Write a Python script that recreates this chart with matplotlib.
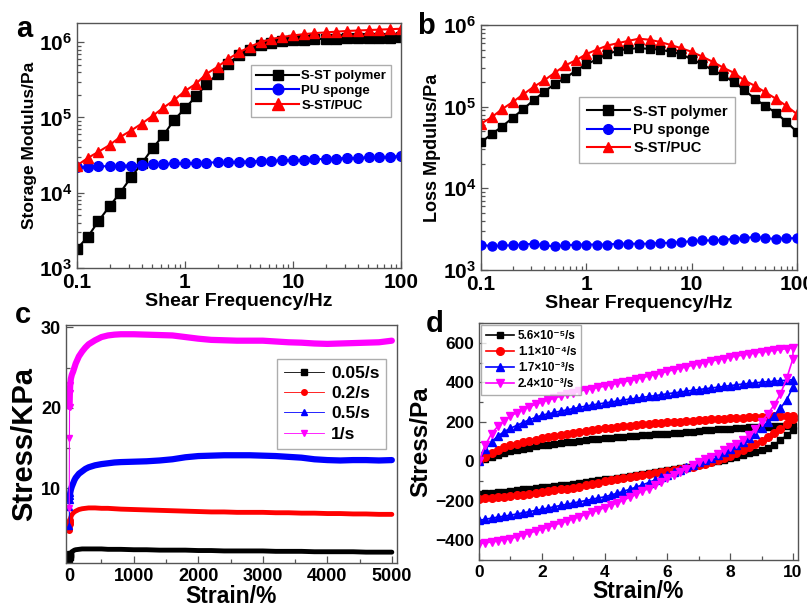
import math
import matplotlib
matplotlib.use("Agg")
import matplotlib.pyplot as plt
from matplotlib.ticker import FuncFormatter, MultipleLocator, LogLocator, NullFormatter

plt.rcParams["font.family"] = ["Liberation Sans", "DejaVu Sans"]
plt.rcParams["font.weight"] = "bold"
plt.rcParams["mathtext.fontset"] = "custom"
plt.rcParams["mathtext.rm"] = "Liberation Sans:bold"
plt.rcParams["mathtext.bf"] = "Liberation Sans:bold"
plt.rcParams["mathtext.it"] = "Liberation Sans:bold"

# ---- panel a / b : frequency sweeps ----
freq = [0.1, 0.126, 0.158, 0.2, 0.251, 0.316, 0.398, 0.501, 0.631, 0.794,
        1.0, 1.26, 1.58, 2.0, 2.51, 3.16, 3.98, 5.01, 6.31, 7.94,
        10.0, 12.6, 15.8, 20.0, 25.1, 31.6, 39.8, 50.1, 63.1, 79.4, 100.0]
storage_sst = [1.8e3, 2.6e3, 4.2e3, 6.6e3, 1.0e4, 1.6e4, 2.45e4, 3.9e4, 5.8e4, 9.3e4,
               1.32e5, 1.9e5, 2.75e5, 3.8e5, 5.2e5, 6.7e5, 8.0e5, 9.1e5, 9.8e5, 1.03e6,
               1.06e6, 1.08e6, 1.10e6, 1.11e6, 1.12e6, 1.13e6, 1.14e6, 1.14e6, 1.15e6, 1.15e6, 1.16e6]
storage_pu = [2.2e4, 2.2e4, 2.25e4, 2.25e4, 2.3e4, 2.3e4, 2.35e4, 2.4e4, 2.4e4, 2.45e4,
              2.45e4, 2.5e4, 2.5e4, 2.55e4, 2.55e4, 2.6e4, 2.6e4, 2.65e4, 2.65e4, 2.7e4,
              2.7e4, 2.75e4, 2.8e4, 2.8e4, 2.85e4, 2.9e4, 2.9e4, 2.95e4, 3.0e4, 3.0e4, 3.1e4]
storage_puc = [2.3e4, 2.9e4, 3.5e4, 4.3e4, 5.5e4, 6.7e4, 8.3e4, 1.05e5, 1.35e5, 1.7e5,
               2.25e5, 2.8e5, 3.8e5, 4.7e5, 6.0e5, 7.3e5, 8.7e5, 1.0e6, 1.1e6, 1.17e6,
               1.23e6, 1.28e6, 1.32e6, 1.35e6, 1.38e6, 1.41e6, 1.43e6, 1.45e6, 1.47e6, 1.49e6, 1.51e6]
loss_sst = [3.66e4, 4.6e4, 5.7e4, 7.3e4, 9.3e4, 1.2e5, 1.52e5, 1.9e5, 2.25e5, 2.75e5,
            3.3e5, 3.8e5, 4.4e5, 4.85e5, 5.1e5, 5.2e5, 5.1e5, 5.0e5, 4.7e5, 4.4e5,
            3.8e5, 3.3e5, 2.8e5, 2.4e5, 2.0e5, 1.6e5, 1.25e5, 1.02e5, 8.4e4, 6.5e4, 4.9e4]
loss_pu = [2.05e3, 1.95e3, 2.0e3, 2.0e3, 2.05e3, 2.1e3, 2.0e3, 1.95e3, 2.0e3, 2.05e3,
           2.05e3, 2.05e3, 2.05e3, 2.1e3, 2.1e3, 2.1e3, 2.1e3, 2.15e3, 2.15e3, 2.2e3,
           2.25e3, 2.3e3, 2.3e3, 2.35e3, 2.4e3, 2.45e3, 2.55e3, 2.45e3, 2.4e3, 2.45e3, 2.45e3]
loss_puc = [6.2e4, 7.4e4, 9.3e4, 1.14e5, 1.41e5, 1.75e5, 2.1e5, 2.6e5, 3.2e5, 3.7e5,
            4.4e5, 5.0e5, 5.6e5, 6.0e5, 6.4e5, 6.8e5, 6.6e5, 6.2e5, 5.7e5, 5.2e5,
            4.7e5, 4.1e5, 3.55e5, 3.0e5, 2.6e5, 2.1e5, 1.8e5, 1.5e5, 1.25e5, 1.02e5, 8.1e4]
ab_labels = ["S-ST polymer", "PU sponge", "S-ST/PUC"]

# ---- panel c : stress vs strain at several rates ----
c_strain = [0, 3, 5, 10, 15, 25, 40, 60, 80, 100, 150, 200, 250, 300, 400, 500, 600, 700, 800,
            1000, 1200, 1400, 1600, 1800, 2000, 2200, 2400, 2600, 2800, 3000,
            3200, 3400, 3600, 3800, 4000, 4200, 4400, 4600, 4800, 5000]
c_005 = [1.2, 1.4, 1.5, 1.7, 1.8, 1.95, 2.1, 2.2, 2.3, 2.35, 2.4, 2.45, 2.45, 2.45, 2.45, 2.45, 2.4, 2.4, 2.4,
         2.35, 2.35, 2.3, 2.3, 2.3, 2.25, 2.25, 2.2, 2.2, 2.2, 2.2,
         2.15, 2.15, 2.15, 2.1, 2.1, 2.1, 2.1, 2.05, 2.05, 2.05]
c_02 = [4.8, 5.3, 5.6, 5.8, 6.1, 6.4, 6.7, 6.9, 7.05, 7.15, 7.35, 7.45, 7.5, 7.55, 7.55, 7.5, 7.5, 7.45, 7.4,
        7.35, 7.3, 7.25, 7.2, 7.15, 7.1, 7.05, 7.05, 7.0, 7.0, 7.0,
        6.95, 6.95, 6.9, 6.9, 6.85, 6.85, 6.8, 6.8, 6.75, 6.75]
c_05 = [5.25, 7.7, 8.5, 9.0, 9.4, 9.8, 10.2, 10.6, 11.0, 11.3, 11.8, 12.1, 12.4, 12.6, 12.85, 13.0, 13.1, 13.2, 13.25,
        13.3, 13.35, 13.45, 13.6, 13.85, 14.0, 14.05, 14.1, 14.1, 14.1, 14.05,
        14.0, 13.9, 13.8, 13.6, 13.5, 13.45, 13.5, 13.5, 13.45, 13.5]
c_1 = [7.5, 16.3, 20.1, 21.9, 22.8, 23.6, 24.1, 24.5, 25.0, 25.5, 26.4, 27.0, 27.5, 27.9, 28.4, 28.8, 29.0, 29.1, 29.15,
       29.15, 29.1, 29.05, 29.0, 28.8, 28.6, 28.45, 28.4, 28.35, 28.35, 28.35,
       28.25, 28.15, 28.1, 28.0, 27.95, 28.0, 28.05, 28.1, 28.15, 28.35]
c_labels = ["0.05/s", "0.2/s", "0.5/s", "1/s"]

# ---- panel d : loading / unloading loops ----
d_strain = [0.0, 0.2, 0.4, 0.6, 0.8, 1.0, 1.2, 1.4, 1.6, 1.8,
            2.0, 2.2, 2.4, 2.6, 2.8, 3.0, 3.2, 3.4, 3.6, 3.8,
            4.0, 4.2, 4.4, 4.6, 4.8, 5.0, 5.2, 5.4, 5.6, 5.8,
            6.0, 6.2, 6.4, 6.6, 6.8, 7.0, 7.2, 7.4, 7.6, 7.8,
            8.0, 8.2, 8.4, 8.6, 8.8, 9.0, 9.2, 9.4, 9.6, 9.8, 10.0]
d1_up = [0, 10, 20, 30, 42, 50, 56, 62, 68, 75, 80, 84, 88, 92, 96, 100, 104, 107, 111, 114,
         117, 120, 122, 125, 127, 129, 131, 133, 136, 138, 140, 143, 145, 148, 150, 153, 156, 158, 161, 163,
         165, 168, 170, 171, 173, 174, 175, 176, 177, 177, 178]
d1_down = [-164, -162, -160, -157, -155, -152, -148, -143, -139, -135, -131, -128, -125, -122, -119, -116, -111, -106, -102, -97,
           -92, -88, -83, -78, -73, -68, -64, -60, -55, -51, -46, -40, -33, -27, -21, -15, -9, -3, 3, 8,
           17, 24, 32, 40, 49, 58, 68, 84, 106, 132, 157]
d2_up = [0, 22, 40, 56, 70, 80, 87, 95, 102, 109, 117, 122, 128, 134, 139, 145, 149, 154, 158, 162,
         166, 170, 173, 177, 180, 183, 187, 189, 192, 194, 197, 199, 201, 204, 206, 208, 210, 212, 214, 216,
         217, 219, 220, 222, 223, 225, 226, 227, 228, 229, 230]
d2_down = [-189, -187, -185, -182, -180, -177, -173, -169, -165, -160, -156, -152, -147, -143, -138, -133, -128, -121, -115, -109,
           -102, -96, -91, -86, -81, -76, -71, -66, -61, -56, -51, -46, -40, -34, -28, -21, -14, -5, 5, 15,
           28, 40, 55, 72, 88, 105, 122, 142, 165, 190, 216]
d3_up = [0, 60, 98, 128, 150, 167, 181, 196, 210, 222, 233, 240, 247, 254, 260, 267, 273, 279, 285, 290,
         295, 300, 305, 310, 315, 318, 323, 328, 332, 337, 342, 346, 350, 355, 359, 363, 367, 371, 375, 379,
         383, 387, 391, 394, 397, 400, 403, 405, 408, 410, 413]
d3_down = [-299, -294, -288, -283, -278, -273, -267, -261, -255, -249, -243, -237, -230, -224, -218, -211, -205, -199, -192, -186,
           -180, -171, -162, -152, -142, -131, -120, -108, -95, -82, -70, -55, -43, -30, -18, -6, 6, 18, 32, 48,
           63, 80, 98, 118, 140, 168, 200, 230, 268, 312, 376]
d4_up = [0, 81, 140, 177, 205, 228, 246, 262, 276, 288, 300, 310, 320, 329, 338, 347, 355, 362, 368, 374,
         380, 387, 394, 401, 408, 415, 423, 431, 439, 447, 455, 463, 470, 478, 486, 493, 500, 507, 514, 520,
         527, 532, 538, 543, 548, 553, 557, 561, 566, 570, 575]
d4_down = [-417, -413, -409, -404, -398, -392, -383, -373, -364, -354, -344, -334, -324, -313, -302, -291, -280, -270, -258, -247,
           -235, -223, -210, -197, -183, -168, -152, -138, -122, -105, -87, -70, -53, -37, -20, -4, 10, 24, 38, 55,
           70, 88, 110, 135, 165, 200, 240, 285, 340, 420, 520]
d_labels = ["5.6\u00d710\u207b\u2075/s", "1.1\u00d710\u207b\u2074/s", "1.7\u00d710\u207b\u00b3/s", "2.4\u00d710\u207b\u00b3/s"]

W, H = 807, 604
fig = plt.figure(figsize=(W / 100, H / 100), dpi=100)


def box(l, t, r, b):
    return [l / W, 1 - b / H, (r - l) / W, (b - t) / H]


def style(ax, tick_size):
    for s in ax.spines.values():
        s.set_color("#555555")
        s.set_linewidth(1.0)
    ax.tick_params(which="both", direction="in", color="#555555", width=0.9,
                   labelsize=tick_size, top=False, right=False)
    ax.tick_params(which="major", length=5)
    ax.tick_params(which="minor", length=3)
    for lab in ax.get_xticklabels() + ax.get_yticklabels():
        lab.set_fontweight("bold")


pow_fmt = FuncFormatter(lambda v, p: r"$\mathbf{10^{%d}}$" % round(math.log10(v)))
freq_fmt = FuncFormatter(lambda v, p: "%g" % v)

# ---------------- a ----------------
ax = fig.add_axes(box(77, 23, 401, 268))
ax.plot(freq, storage_sst, "-s", color="black", ms=6.5, lw=1.5, label=ab_labels[0])
ax.plot(freq, storage_pu, "-o", color="blue", ms=7, lw=1.5, label=ab_labels[1])
ax.plot(freq, storage_puc, "-^", color="red", ms=7.5, lw=1.5, label=ab_labels[2])
ax.set_xscale("log")
ax.set_yscale("log")
ax.set_xlim(0.1, 100)
ax.set_ylim(1e3, 1.8e6)
ax.xaxis.set_major_formatter(freq_fmt)
ax.yaxis.set_major_locator(LogLocator(base=10, numticks=10))
ax.yaxis.set_major_formatter(pow_fmt)
ax.yaxis.set_minor_formatter(NullFormatter())
ax.xaxis.set_minor_formatter(NullFormatter())
style(ax, 15)
ax.set_xlabel("Shear Frequency/Hz", fontsize=14, fontweight="bold", labelpad=1)
ax.set_ylabel("Storage Modulus/Pa", fontsize=12.5, fontweight="bold", labelpad=1)
ax.legend(loc="upper right", bbox_to_anchor=(0.991, 0.857), frameon=True,
          fancybox=False, edgecolor="#999999", handlelength=3.2, labelspacing=0.2,
          borderpad=0.4, handletextpad=0.2, markerscale=1.1, prop={"weight": "bold", "size": 9.5})

# ---------------- b ----------------
ax = fig.add_axes(box(481, 25, 797, 270))
ax.plot(freq, loss_puc, "-^", color="red", ms=7, lw=1.5, zorder=2)
ax.plot(freq, loss_sst, "-s", color="black", ms=6, lw=1.5, zorder=3)
ax.plot(freq, loss_pu, "-o", color="blue", ms=6.5, lw=1.5, zorder=3)
ax.set_xscale("log")
ax.set_yscale("log")
ax.set_xlim(0.1, 100)
ax.set_ylim(1e3, 1e6)
ax.xaxis.set_major_formatter(freq_fmt)
ax.yaxis.set_major_locator(LogLocator(base=10, numticks=10))
ax.yaxis.set_major_formatter(pow_fmt)
ax.yaxis.set_minor_formatter(NullFormatter())
ax.xaxis.set_minor_formatter(NullFormatter())
style(ax, 15)
ax.set_xlabel("Shear Frequency/Hz", fontsize=14, fontweight="bold", labelpad=1)
ax.set_ylabel("Loss Mpdulus/Pa", fontsize=13, fontweight="bold", labelpad=1)
hb = [plt.Line2D([], [], color="black", marker="s", ms=6.5, lw=1.5),
      plt.Line2D([], [], color="blue", marker="o", ms=7, lw=1.5),
      plt.Line2D([], [], color="red", marker="^", ms=7.5, lw=1.5)]
ax.legend(hb, ab_labels, loc="upper left", bbox_to_anchor=(0.288, 0.735), frameon=True,
          fancybox=False, edgecolor="#999999", handlelength=3.0, labelspacing=0.3,
          borderpad=0.5, handletextpad=0.2, prop={"weight": "bold", "size": 10.5})

# ---------------- c ----------------
ax = fig.add_axes(box(66, 325, 397, 563))
c_series = [c_005, c_02, c_05, c_1]
c_cols = ["black", "red", "blue", "magenta"]
c_marks = ["s", "o", "^", "v"]
c_lw = [3.5, 3.5, 4.5, 4.5]
for ys, col, mk, lw in zip(c_series, c_cols, c_marks, c_lw):
    ax.plot(c_strain[:5], ys[:5], color=col, lw=0.8, marker=mk, ms=4)
    ax.plot(c_strain[2:], ys[2:], color=col, lw=lw, solid_capstyle="round")
ax.set_xlim(-50, 5080)
ax.set_ylim(0.7, 30.3)
ax.set_yticks([10, 20, 30])
ax.xaxis.set_major_locator(MultipleLocator(1000))
ax.xaxis.set_minor_locator(MultipleLocator(500))
ax.yaxis.set_minor_locator(MultipleLocator(5))
style(ax, 13)
ax.set_xlabel("Strain/%", fontsize=16.5, fontweight="bold", labelpad=0)
ax.set_ylabel("Stress/KPa", fontsize=21, fontweight="bold", labelpad=2)
hc = [plt.Line2D([], [], color=col, lw=0.6, marker=mk, ms=4) for col, mk in zip(c_cols, c_marks)]
ax.legend(hc, c_labels, loc="upper right", bbox_to_anchor=(0.994, 0.895), frameon=True,
          fancybox=False, edgecolor="#999999", handlelength=2.3, labelspacing=0.3,
          borderpad=0.4, handletextpad=0.4, prop={"weight": "bold", "size": 12.5})

# ---------------- d ----------------
ax = fig.add_axes(box(479, 323, 798, 560))
d_series = [(d1_up, d1_down), (d2_up, d2_down), (d3_up, d3_down), (d4_up, d4_down)]
d_marks = ["s", "o", "^", "v"]
d_ms = [5, 5.5, 5.5, 5.5]
for (up, down), col, mk, ms, lab in zip(d_series, c_cols, d_marks, d_ms, d_labels):
    ax.plot(d_strain + d_strain[::-1], up + down[::-1], color=col, lw=1.2, marker=mk, ms=ms, label=lab)
ax.set_xlim(0, 10.16)
ax.set_ylim(-500, 700)
ax.set_yticks([-400, -200, 0, 200, 400, 600])
ax.xaxis.set_major_locator(MultipleLocator(2))
ax.xaxis.set_minor_locator(MultipleLocator(1))
ax.yaxis.set_minor_locator(MultipleLocator(100))
style(ax, 12.5)
ax.set_xlabel("Strain/%", fontsize=16.5, fontweight="bold", labelpad=0)
ax.set_ylabel("Stress/Pa", fontsize=17.5, fontweight="bold", labelpad=2)
ax.legend(loc="upper left", bbox_to_anchor=(0.0, 1.0), frameon=True, borderaxespad=0.2,
          fancybox=False, edgecolor="#999999", handlelength=2.4, labelspacing=0.35,
          borderpad=0.4, handletextpad=0.3, prop={"weight": "bold", "size": 8.5})

# panel letters
for x, y, t in [(16, 37, "a"), (417, 34, "b"), (15, 323, "c"), (426, 332, "d")]:
    fig.text(x / W, 1 - y / H, t, fontsize=21, fontweight="bold", va="baseline", ha="left")

fig.savefig("out.png", dpi=100)
